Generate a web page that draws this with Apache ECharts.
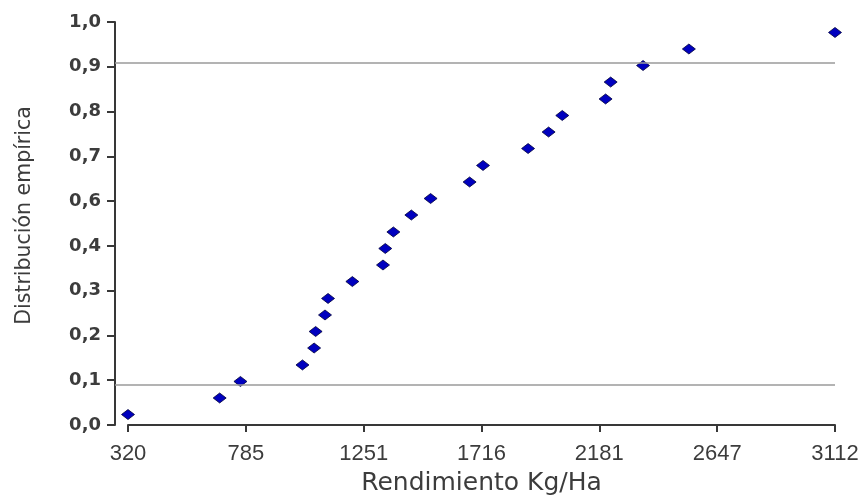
<!DOCTYPE html>
<html><head><meta charset="utf-8">
<script src="https://cdn.jsdelivr.net/npm/echarts@6/dist/echarts.min.js"></script>
<style>html,body{margin:0;padding:0;background:#fff}#c{width:865px;height:501px}</style>
</head><body><div id="c"></div>
<script>
// Data
const yieldValues = [320, 682, 764, 1009, 1055, 1061, 1098, 1110, 1206, 1327, 1336, 1368, 1439, 1515, 1669, 1722, 1900, 1981, 2035, 2206, 2226, 2354, 2535, 3112];
const empiricalValues = [0.026, 0.067, 0.108, 0.149, 0.191, 0.232, 0.273, 0.314, 0.356, 0.397, 0.438, 0.479, 0.521, 0.562, 0.603, 0.644, 0.686, 0.727, 0.768, 0.809, 0.851, 0.892, 0.933, 0.974];
const referenceLines = [0.098, 0.9];
const xTickLabels = ['320', '785', '1251', '1716', '2181', '2647', '3112'];
const yTickLabels = ['0,0', '0,1', '0,2', '0,3', '0,4', '0,6', '0,7', '0,8', '0,9', '1,0'];
const xMin = 320, xMax = 3112;
const xInterval = (xMax - xMin) / (xTickLabels.length - 1);

const axisColor = '#383838';
const textColor = '#3c3c3c';

const chart = echarts.init(document.getElementById('c'), null, {renderer: 'canvas'});
chart.setOption({
  animation: false,
  backgroundColor: '#fff',
  grid: [
    {left: 115, top: 22, width: 720, height: 403},   // y axis + reference lines
    {left: 128, top: 22, width: 707, height: 403},   // data
    {left: 128, top: 22, width: 707, height: 414}    // detached x axis
  ],
  xAxis: [
    {gridIndex: 0, type: 'value', min: 0, max: 1, show: false},
    {gridIndex: 1, type: 'value', min: xMin, max: xMax, show: false},
    {
      gridIndex: 2, type: 'value', min: xMin, max: xMax, interval: xInterval,
      axisLine: {show: true, lineStyle: {color: axisColor, width: 2}},
      axisTick: {show: true, inside: false, length: 7, lineStyle: {color: axisColor, width: 2}},
      splitLine: {show: false},
      axisLabel: {
        margin: 18, fontSize: 22, color: textColor, fontFamily: "'Liberation Sans', Arial, sans-serif",
        formatter: v => xTickLabels[Math.round((v - xMin) / xInterval)]
      },
      name: 'Rendimiento Kg/Ha', nameLocation: 'middle', nameGap: 46,
      nameTextStyle: {fontSize: 25, color: textColor, fontFamily: "'DejaVu Sans', sans-serif"}
    }
  ],
  yAxis: [
    {
      gridIndex: 0, type: 'value', min: 0, max: yTickLabels.length - 1, interval: 1,
      axisLine: {show: true, lineStyle: {color: axisColor, width: 2}},
      axisTick: {show: true, inside: false, length: 8, lineStyle: {color: axisColor, width: 2}},
      splitLine: {show: false},
      axisLabel: {
        margin: 14, fontSize: 18, fontWeight: 'bold', color: textColor, fontFamily: "'DejaVu Sans', sans-serif",
        formatter: v => yTickLabels[Math.round(v)]
      },
      name: 'Distribución empírica', nameLocation: 'middle', nameGap: 80,
      nameTextStyle: {fontSize: 20.5, color: textColor, padding: [0, 0, 0, 16], fontFamily: "'DejaVu Sans', sans-serif"}
    },
    {gridIndex: 0, type: 'value', min: 0, max: 1, show: false},
    {gridIndex: 1, type: 'value', min: 0, max: 1, show: false},
    {gridIndex: 2, type: 'value', min: 0, max: 1, show: false}
  ],
  series: [
    {
      type: 'line', xAxisIndex: 0, yAxisIndex: 1, data: [],
      markLine: {
        silent: true, symbol: ['none', 'none'], label: {show: false},
        lineStyle: {color: '#9a9a9a', width: 1.6, type: 'solid'},
        data: referenceLines.map(v => ({yAxis: v}))
      }
    },
    {
      type: 'scatter', xAxisIndex: 1, yAxisIndex: 2,
      symbol: 'diamond', symbolSize: [13, 10],
      itemStyle: {color: '#0000bf', borderColor: '#00003a', borderWidth: 0.8, opacity: 1},
      data: yieldValues.map((x, i) => [x, empiricalValues[i]])
    }
  ]
});
</script></body></html>
